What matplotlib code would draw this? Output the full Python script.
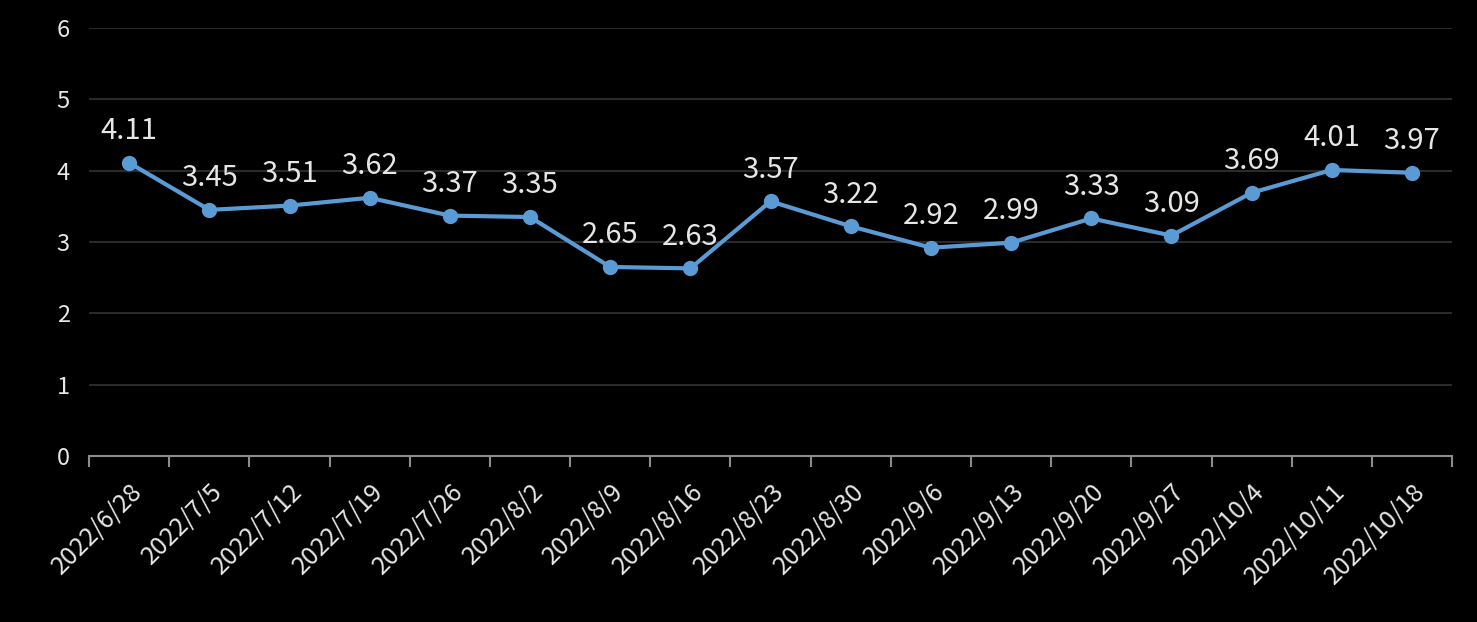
import numpy as np
import matplotlib.pyplot as plt

dates = ['2022/6/28', '2022/7/5', '2022/7/12', '2022/7/19', '2022/7/26', '2022/8/2',
         '2022/8/9', '2022/8/16', '2022/8/23', '2022/8/30', '2022/9/6', '2022/9/13',
         '2022/9/20', '2022/9/27', '2022/10/4', '2022/10/11', '2022/10/18']
values = [4.11, 3.45, 3.51, 3.62, 3.37, 3.35, 2.65, 2.63, 3.57, 3.22, 2.92, 2.99,
          3.33, 3.09, 3.69, 4.01, 3.97]

plt.rcParams['font.family'] = ['Noto Sans CJK SC', 'DejaVu Sans']
txt = '#e6e6e6'

fig = plt.figure(figsize=(14.77, 6.22), dpi=100, facecolor='black')
ax = fig.add_axes([0.0603, 0.2669, 0.9228, 0.6881], facecolor='black')

x = np.arange(len(dates))
ax.plot(x, values, color='#5B9BD5', lw=3, marker='o', ms=10, zorder=3)
for xi, v in zip(x, values):
    ax.annotate(f'{v:.2f}', (xi, v), xytext=(0, 12), textcoords='offset points',
                ha='center', va='bottom', fontsize=21, color=txt)

ax.set_xlim(-0.5, len(dates) - 0.5)
ax.set_ylim(0, 6)
ax.set_yticks(range(7))
ax.grid(axis='y', color='#2a2a2a', lw=1.5)
ax.set_axisbelow(True)

ax.set_xticks(x)
ax.set_xticklabels(dates, rotation=45, ha='right', rotation_mode='anchor')
ax.set_xticks(np.arange(-0.5, len(dates)), minor=True)
ax.tick_params(axis='x', which='major', length=0, pad=16, labelsize=18, colors=txt)
ax.tick_params(axis='x', which='minor', length=8, width=1.5, color='#8c8c8c')
ax.tick_params(axis='y', length=0, pad=14, labelsize=17, colors=txt)

for s in ['top', 'right', 'left']:
    ax.spines[s].set_visible(False)
ax.spines['bottom'].set_color('#8c8c8c')
ax.spines['bottom'].set_linewidth(1.5)

fig.savefig('out.png', facecolor='black')
